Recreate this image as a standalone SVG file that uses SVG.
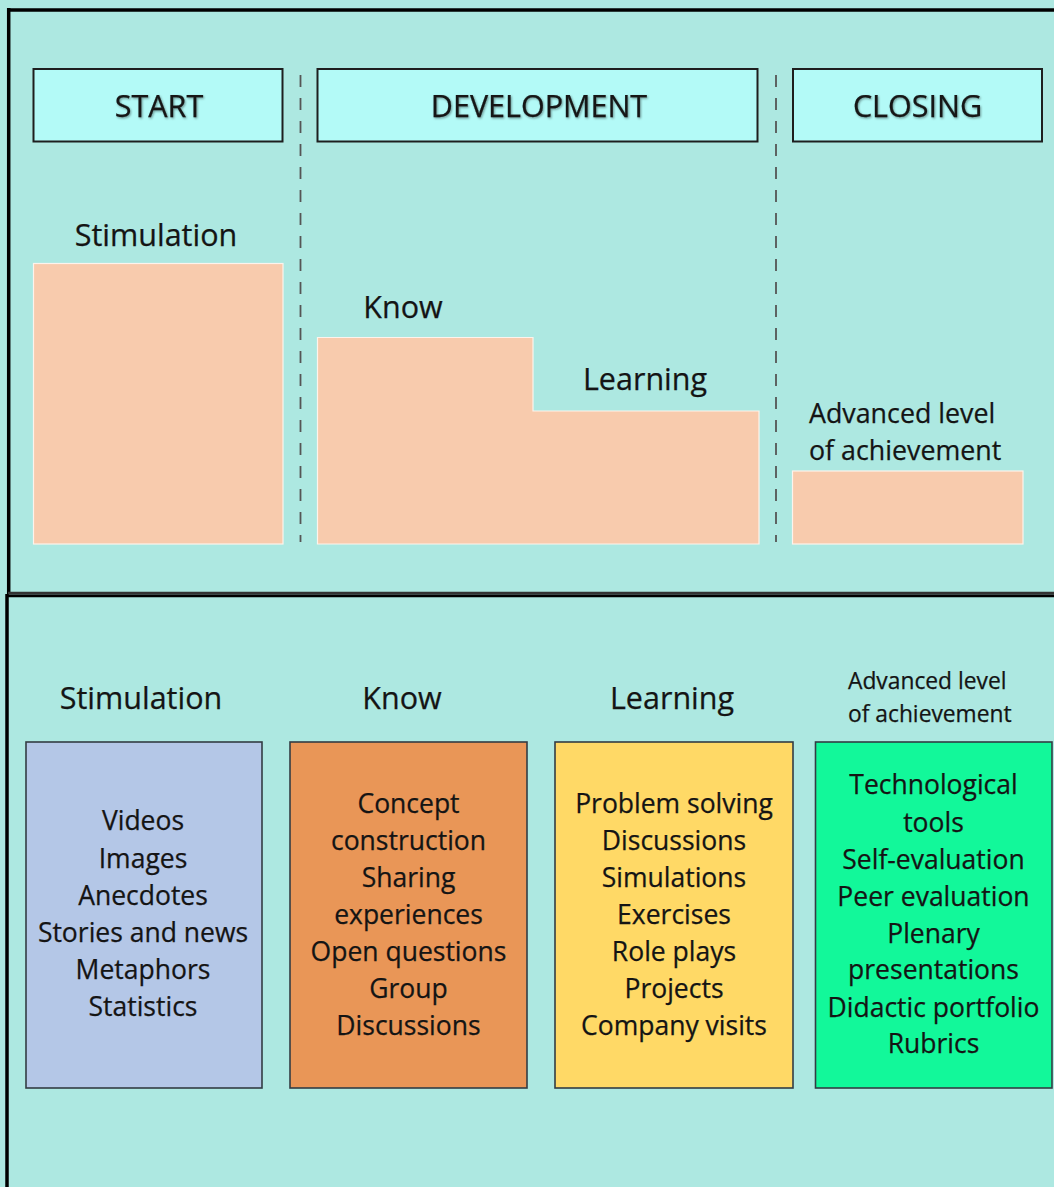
<svg xmlns="http://www.w3.org/2000/svg" width="1054" height="1187" viewBox="0 0 1054 1187">
<defs>
<filter id="sh" x="-10%" y="-30%" width="130%" height="160%">
<feDropShadow dx="1" dy="1.2" stdDeviation="0.8" flood-color="#000" flood-opacity="0.4"/>
</filter>
</defs>
<style>
text{font-family:"Open Sans","Noto Sans","Liberation Sans",sans-serif;fill:#141414;stroke:#141414;stroke-width:0.25}
.hdr{fill:#B3FAF7;stroke:#1e1e1e;stroke-width:2}
.hdrt{font-size:30.5px;text-anchor:middle;filter:url(#sh)}
.bar{fill:#F8CBAD;stroke:#fdf3ec;stroke-width:1.2}
.lbl{font-size:30.5px;text-anchor:middle}
.lbl2{font-size:26.8px}
.dash{stroke:#555;stroke-width:1.8;stroke-dasharray:12 11}
.frame{fill:none;stroke:#000;stroke-width:3.5}
.box{stroke:#333c44;stroke-width:1.6}
.bt{font-size:26.5px;text-anchor:middle}
</style>
<rect x="0" y="0" width="1054" height="1187" fill="#ADE8E1"/>
<g id="frames">
<line class="frame" x1="8.7" y1="10" x2="1054" y2="10"/>
<line class="frame" x1="8.7" y1="8" x2="8.7" y2="594"/>
<line x1="8" y1="593.3" x2="1054" y2="593.3" stroke="#333" stroke-width="3"/>
<line x1="6" y1="596" x2="1054" y2="596" stroke="#000" stroke-width="2.5"/>
<line class="frame" x1="7" y1="594" x2="7" y2="1187"/>
</g>
<g id="dividers">
<line class="dash" x1="300.5" y1="75" x2="300.5" y2="542"/>
<line class="dash" x1="776" y1="75" x2="776" y2="542"/>
</g>
<g id="start">
<rect class="hdr" x="33.5" y="69" width="249" height="72.5"/>
<text class="hdrt" x="159" y="117">START</text>
</g>
<g id="development">
<rect class="hdr" x="317.5" y="69" width="440" height="72.5"/>
<text class="hdrt" x="539" y="117">DEVELOPMENT</text>
</g>
<g id="closing">
<rect class="hdr" x="793" y="69" width="249" height="72.5"/>
<text class="hdrt" x="917.5" y="117">CLOSING</text>
</g>
<g id="stimulation-bar">
<rect class="bar" x="33.5" y="263.5" width="249.5" height="280.5"/>
<text class="lbl" x="156" y="246">Stimulation</text>
</g>
<g id="know-learning-bar">
<path class="bar" d="M317.5 337.5 H533 V411 H759 V544 H317.5 Z"/>
<text class="lbl" x="403" y="318">Know</text>
<text class="lbl" x="645" y="390">Learning</text>
</g>
<g id="advanced-bar">
<rect class="bar" x="792.5" y="471" width="230.5" height="73"/>
<text class="lbl2" x="809" y="423">Advanced level</text>
<text class="lbl2" x="809" y="460">of achievement</text>
</g>
<g id="stimulation-box">
<text class="lbl" x="141" y="709">Stimulation</text>
<rect class="box" x="26" y="742" width="236" height="346" fill="#B4C7E7"/>
<text class="bt" x="143" y="830">Videos</text>
<text class="bt" x="143" y="868">Images</text>
<text class="bt" x="143" y="905">Anecdotes</text>
<text class="bt" x="143" y="942">Stories and news</text>
<text class="bt" x="143" y="979">Metaphors</text>
<text class="bt" x="143" y="1016">Statistics</text>
</g>
<g id="know-box">
<text class="lbl" x="402" y="709">Know</text>
<rect class="box" x="290" y="742" width="237" height="346" fill="#E99657"/>
<text class="bt" x="408.5" y="813">Concept</text>
<text class="bt" x="408.5" y="850">construction</text>
<text class="bt" x="408.5" y="887">Sharing</text>
<text class="bt" x="408.5" y="924">experiences</text>
<text class="bt" x="408.5" y="961">Open questions</text>
<text class="bt" x="408.5" y="998">Group</text>
<text class="bt" x="408.5" y="1035">Discussions</text>
</g>
<g id="learning-box">
<text class="lbl" x="672" y="709">Learning</text>
<rect class="box" x="555" y="742" width="238" height="346" fill="#FFD966"/>
<text class="bt" x="674" y="813">Problem solving</text>
<text class="bt" x="674" y="850">Discussions</text>
<text class="bt" x="674" y="887">Simulations</text>
<text class="bt" x="674" y="924">Exercises</text>
<text class="bt" x="674" y="961">Role plays</text>
<text class="bt" x="674" y="998">Projects</text>
<text class="bt" x="674" y="1035">Company visits</text>
</g>
<g id="advanced-box">
<text style="font-size:22.8px" x="848" y="689">Advanced level</text>
<text style="font-size:22.8px" x="848" y="722">of achievement</text>
<rect class="box" x="815.5" y="742" width="236.5" height="346" fill="#12F89A"/>
<text class="bt" x="933.5" y="794">Technological</text>
<text class="bt" x="933.5" y="832">tools</text>
<text class="bt" x="933.5" y="869">Self-evaluation</text>
<text class="bt" x="933.5" y="906">Peer evaluation</text>
<text class="bt" x="933.5" y="943">Plenary</text>
<text class="bt" x="933.5" y="979">presentations</text>
<text class="bt" x="933.5" y="1017">Didactic portfolio</text>
<text class="bt" x="933.5" y="1053">Rubrics</text>
</g>
</svg>
